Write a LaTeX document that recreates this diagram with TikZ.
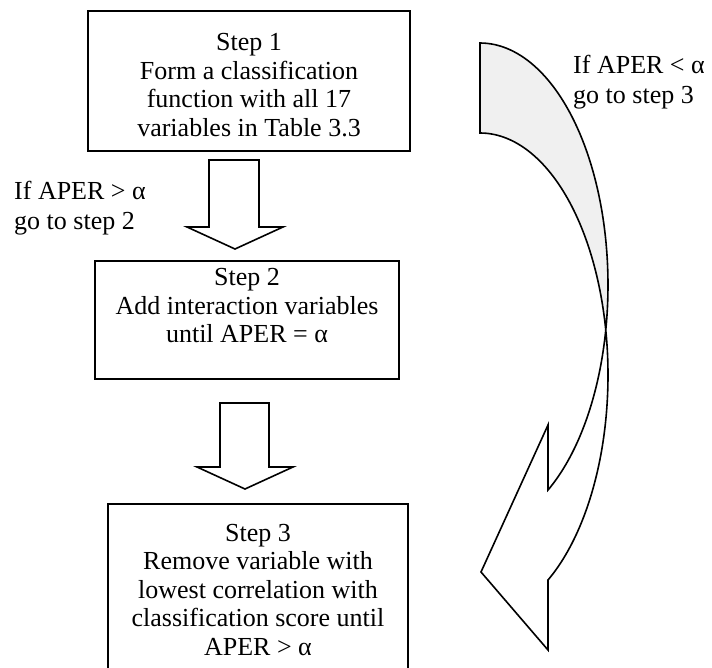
\documentclass[tikz,border=0pt]{standalone}
\usepackage{fontspec}
\setmainfont{Liberation Serif}
\begin{document}
\begin{tikzpicture}[x=1pt,y=-1pt,
  stepbox/.style={draw=black,line width=1.6pt,fill=white,inner sep=0pt},
  boxtext/.style={align=center,font=\fontsize{26}{28.5}\selectfont,inner sep=0pt},
  sidetext/.style={align=left,font=\fontsize{26}{29.5}\selectfont,inner sep=0pt,anchor=west},
  blockarrow/.style={draw=black,line width=1.6pt,line join=miter,fill=white},
  ribbonback/.style={draw=black,line width=1.6pt,fill=black!6,line join=miter},
  ribbonfront/.style={draw=black,line width=1.6pt,fill=white,line join=miter}]
\useasboundingbox (0,0) rectangle (712,668);
\clip (0,0) rectangle (712,668);

% process boxes
\node[stepbox,minimum width=322pt,minimum height=140pt] (s1) at (249,81) {};
\node[boxtext] (t1) at (s1.center) [yshift=-4pt]
  {Step 1\\Form a classification\\function with all 17\\variables in Table 3.3};

\node[stepbox,minimum width=304pt,minimum height=118pt] (s2) at (247,320) {};
\node[boxtext] (t2) at (247,306)
  {Step 2\\Add interaction variables\\until APER = α};

\node[stepbox,minimum width=300pt,minimum height=200pt] (s3) at (258,604) {};
\node[boxtext] (t3) at (258,590)
  {Step 3\\Remove variable with\\lowest correlation with\\classification score until\\APER > α};

% block arrows between the boxes
\draw[blockarrow] (209,160) -- (259,160) -- (259,227) -- (283,227) -- (235,249)
  -- (187,227) -- (209,227) -- cycle;
\draw[blockarrow] (220,403) -- (269,403) -- (269,467) -- (293,467) -- (245,489)
  -- (197,467) -- (220,467) -- cycle;

% condition labels
\node[sidetext] (c2) at (14,208) {If APER > α\\go to step 2};
\node[sidetext] (c3) at (573,82) {If APER < α\\go to step 3};

% curved return arrow: two elliptical edges, back face shaded
\path[ribbonback] (480,43)
  -- plot[domain=-90:10.7,samples=60] ({480+128*cos(\x)},{285+242*sin(\x)})
  -- plot[domain=-10.7:-90,samples=60] ({480+128*cos(\x)},{375+242*sin(\x)})
  -- cycle;
\path[ribbonfront] ({480+128*cos(10.7)},{285+242*sin(10.7)})
  -- plot[domain=10.7:57.9,samples=60] ({480+128*cos(\x)},{285+242*sin(\x)})
  -- (548,425) -- (481,572) -- (548,650) -- (548,580)
  -- plot[domain=57.9:-10.7,samples=60] ({480+128*cos(\x)},{375+242*sin(\x)})
  -- cycle;
\end{tikzpicture}
\end{document}
